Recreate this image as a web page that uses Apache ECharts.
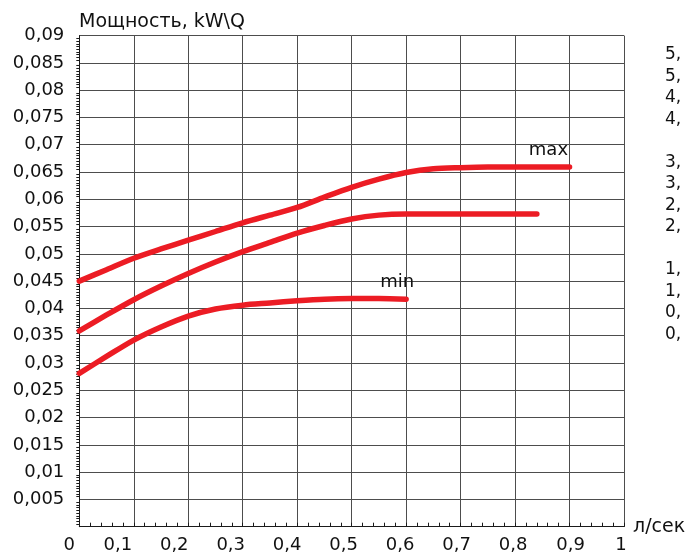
<!DOCTYPE html>
<html>
<head>
<meta charset="utf-8">
<script src="https://cdn.jsdelivr.net/npm/echarts@6/dist/echarts.min.js"></script>
<style>
html,body{margin:0;padding:0;background:#fff;}
#chart{width:690px;height:559px;}
</style>
</head>
<body>
<div id="chart"></div>
<script>
// ---- data ----
var titleText = 'Мощность, kW\\Q';
var xUnit = 'л/сек';
var xTickLabels = ['0','0,1','0,2','0,3','0,4','0,5','0,6','0,7','0,8','0,9','1'];
var sideLabels = ['5,','5,','4,','4,','3,','3,','2,','2,','1,','1,','0,','0,'];

var maxX = [0, 0.05, 0.1, 0.15, 0.2, 0.25, 0.3, 0.35, 0.4, 0.45, 0.5, 0.55, 0.6, 0.65, 0.7, 0.75, 0.8, 0.85, 0.9];
var maxY = [0.045, 0.0471, 0.0492, 0.0509, 0.0525, 0.0541, 0.0557, 0.0571, 0.0585, 0.0604, 0.0622, 0.0637, 0.0649, 0.0656, 0.0658, 0.0659, 0.0659, 0.0659, 0.0659];

var midX = [0, 0.05, 0.1, 0.15, 0.2, 0.25, 0.3, 0.35, 0.4, 0.45, 0.5, 0.55, 0.6, 0.7, 0.8, 0.84];
var midY = [0.0359, 0.0388, 0.0416, 0.0441, 0.0464, 0.0485, 0.0504, 0.0521, 0.0538, 0.0552, 0.0564, 0.0571, 0.0573, 0.0573, 0.0573, 0.0573];

var minX = [0, 0.05, 0.1, 0.15, 0.2, 0.25, 0.3, 0.35, 0.4, 0.45, 0.5, 0.55, 0.6];
var minY = [0.0281, 0.0312, 0.0342, 0.0366, 0.0386, 0.0399, 0.0406, 0.041, 0.0414, 0.0417, 0.0418, 0.0418, 0.0417];

// ---- layout (not data) ----
var xLabelShift = [-10, -16, -14, -12, -10, -8, -6, -4, -2, 1, -3];
var sideRows = [0, 1, 2, 3, 5, 6, 7, 8, 10, 11, 12, 13];
var FONT = 'DejaVu Sans';
var RED = '#ec1c24';
var GRID_COLOR = '#4d4d4d';
var TXT = '#111';

function pairs(xs, ys){ return xs.map(function(x,i){ return [x, ys[i]]; }); }

var rich = {};
xLabelShift.forEach(function(s, i){
  rich['l' + i] = {
    fontSize: 18, fontFamily: FONT, color: TXT,
    padding: s < 0 ? [0, -2*s, 0, 0] : [0, 0, 0, 2*s]
  };
});

var chart = echarts.init(document.getElementById('chart'), null, {renderer:'canvas'});
var lineStyleBase = {color: RED, width: 5.5, cap: 'round', join: 'round'};

var option = {
  animation: false,
  backgroundColor: '#fff',
  title: {
    text: titleText, left: 74, top: 8,
    textStyle: {fontFamily: FONT, fontSize: 19, fontWeight: 'normal', color: TXT}
  },
  grid: {left: 79.3, right: 66, top: 35.6, bottom: 32.3, containLabel: false},
  xAxis: {
    type: 'value', min: 0, max: 1, interval: 0.1,
    name: xUnit, nameLocation: 'end', nameGap: 9,
    nameTextStyle: {fontFamily: FONT, fontSize: 19, color: TXT, align: 'left', verticalAlign: 'middle', padding: [20, 0, 0, 0]},
    axisLine: {show: true, lineStyle: {color: '#1a1a1a', width: 1}},
    axisTick: {show: true, inside: true, length: 4, lineStyle: {color: '#1a1a1a'}},
    minorTick: {show: true, splitNumber: 5, length: 4, lineStyle: {color: '#1a1a1a'}},
    axisLabel: {
      margin: 10, fontFamily: FONT, fontSize: 18, color: TXT,
      formatter: function(v){ var i = Math.round(v*10); return '{l' + i + '|' + xTickLabels[i] + '}'; },
      rich: rich
    },
    splitLine: {show: true, lineStyle: {color: GRID_COLOR, width: 1}}
  },
  yAxis: {
    type: 'value', min: 0, max: 0.09, interval: 0.005,
    axisLine: {show: true, lineStyle: {color: '#1a1a1a', width: 1}},
    axisTick: {show: false},
    minorTick: {show: true, splitNumber: 10, length: 3, lineStyle: {color: '#1a1a1a'}},
    axisLabel: {
      margin: 15, fontFamily: FONT, fontSize: 18, color: TXT,
      padding: [0, 0, 5, 0],
      formatter: function(v){ if (v === 0) return ''; return String(+v.toFixed(3)).replace('.', ','); }
    },
    splitLine: {show: true, lineStyle: {color: GRID_COLOR, width: 1}}
  },
  series: [
    {type: 'line', name: 'max', data: pairs(maxX, maxY), smooth: 0.3, symbol: 'none', lineStyle: lineStyleBase, z: 5},
    {type: 'line', name: 'mid', data: pairs(midX, midY), smooth: 0.3, symbol: 'none', lineStyle: lineStyleBase, z: 5},
    {type: 'line', name: 'min', data: pairs(minX, minY), smooth: 0.3, symbol: 'none', lineStyle: lineStyleBase, z: 5}
  ]
};
chart.setOption(option);

// annotations positioned from data via the chart's scales
var maxEnd = chart.convertToPixel({gridIndex: 0}, [maxX[maxX.length-1], maxY[maxY.length-1]]);
var minEnd = chart.convertToPixel({gridIndex: 0}, [minX[minX.length-1], minY[minY.length-1]]);

var graphics = [
  {type: 'text', x: maxEnd[0] - 1.5, y: maxEnd[1] - 16.5, style: {text: 'max', font: '18px "' + FONT + '"', fill: TXT, textAlign: 'right', textVerticalAlign: 'middle'}, z: 10},
  {type: 'text', x: minEnd[0] - 9, y: minEnd[1] - 17, style: {text: 'min', font: '18px "' + FONT + '"', fill: TXT, textAlign: 'center', textVerticalAlign: 'middle'}, z: 10}
];
sideLabels.forEach(function(t, i){
  graphics.push({type: 'text', x: 665, y: 55 + sideRows[i] * 21.5, style: {text: t, font: '17px "' + FONT + '"', fill: TXT, textAlign: 'left', textVerticalAlign: 'middle'}});
});
chart.setOption({graphic: graphics});
</script>
</body>
</html>
